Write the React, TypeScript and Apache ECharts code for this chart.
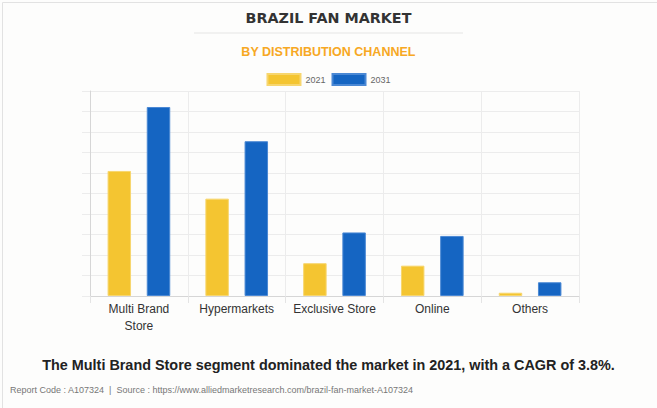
import React, { useEffect, useRef } from "react";
import * as echarts from "echarts";

const categories = ["Multi Brand\nStore", "Hypermarkets", "Exclusive Store", "Online", "Others"];
const values2021 = [6.1, 4.75, 1.6, 1.48, 0.16];
const values2031 = [9.22, 7.55, 3.1, 2.93, 0.67];
const seriesNames = ["2021", "2031"];

export default function App() {
  const ref = useRef<HTMLDivElement>(null);
  useEffect(() => {
    const chart = echarts.init(ref.current!, null, { renderer: "svg" });
    const font = "'Liberation Sans', Arial, sans-serif";
    chart.setOption({
      animation: false,
      backgroundColor: "#fdfdfc",
      textStyle: { fontFamily: font },
      legend: {
        top: 68,
        left: "center",
        itemWidth: 33,
        itemHeight: 11,
        itemGap: 6,
        icon: "rect",
        textStyle: { fontSize: 9, color: "#666", fontFamily: font },
        data: seriesNames,
      },
      grid: { left: 90, right: 78, top: 91, bottom: 112, containLabel: false },
      xAxis: {
        type: "category",
        data: categories,
        axisLine: { show: true, lineStyle: { color: "#d6d6d6" } },
        axisTick: { show: true, interval: 0, length: 7, lineStyle: { color: "#e4e4e4" } },
        splitLine: { show: true, interval: 0, lineStyle: { color: "#ececec" } },
        axisLabel: { interval: 0, color: "#333", fontSize: 12, lineHeight: 17, margin: 4, fontFamily: font },
      },
      yAxis: {
        type: "value",
        min: 0,
        max: 10,
        interval: 1,
        axisLine: { show: true, lineStyle: { color: "#d6d6d6" } },
        axisTick: { show: true, length: 8, lineStyle: { color: "#ececec" } },
        axisLabel: { show: false },
        splitLine: { show: true, lineStyle: { color: "#ececec" } },
      },
      series: [
        {
          name: seriesNames[0],
          type: "bar",
          data: values2021,
          barWidth: "24%",
          barGap: "67%",
          itemStyle: { color: "#f4c531", borderColor: "#f7d66e", borderWidth: 1 },
        },
        {
          name: seriesNames[1],
          type: "bar",
          data: values2031,
          barWidth: "24%",
          barGap: "67%",
          itemStyle: { color: "#1565c2", borderColor: "#4a88d4", borderWidth: 1 },
        },
      ],
      graphic: [
        {
          type: "rect",
          left: 0,
          top: 0,
          shape: { x: 0.5, y: 0.5, width: 656, height: 407 },
          style: { fill: "none", stroke: "#e2e2e2", lineWidth: 1 },
          silent: true,
        },
        {
          type: "text",
          left: "center",
          top: 11,
          style: {
            text: "BRAZIL FAN MARKET",
            font: `bold 14.3px 'DejaVu Sans', sans-serif`,
            fill: "#333",
          },
        },
        {
          type: "line",
          shape: { x1: 194, y1: 33, x2: 463, y2: 33 },
          style: { stroke: "#ececec", lineWidth: 1.5 },
        },
        {
          type: "text",
          left: "center",
          top: 45,
          style: {
            text: "BY DISTRIBUTION CHANNEL",
            font: `bold 12.5px ${font}`,
            fill: "#f7a823",
          },
        },
        {
          type: "text",
          left: "center",
          top: 358,
          style: {
            text: "The Multi Brand Store segment dominated the market in 2021, with a CAGR of 3.8%.",
            font: `bold 14.4px ${font}`,
            fill: "#222",
          },
        },
        {
          type: "text",
          left: 10,
          top: 385,
          style: {
            text: "Report Code : A107324  |  Source : https://www.alliedmarketresearch.com/brazil-fan-market-A107324",
            font: `9px ${font}`,
            fill: "#777",
          },
        },
      ],
    });
    return () => chart.dispose();
  }, []);
  return (
    <div
      ref={ref}
      style={{ position: "fixed", left: 0, top: 0, width: 657, height: 408 }}
    />
  );
}
